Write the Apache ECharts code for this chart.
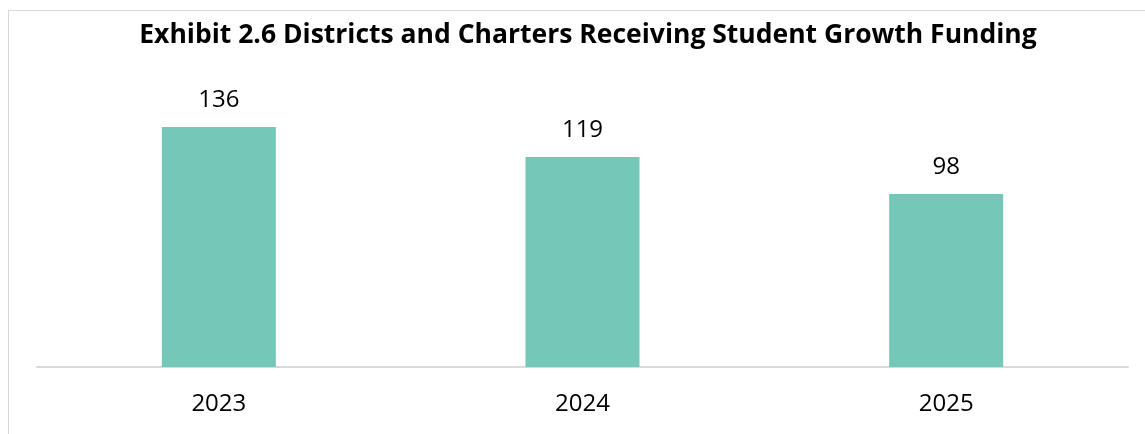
<!DOCTYPE html>
<html>
<head>
<meta charset="utf-8">
<script src="https://cdn.jsdelivr.net/npm/echarts@6/dist/echarts.min.js"></script>
<style>
    html, body { margin: 0; padding: 0; background: #fff; }
    .frame {
        position: absolute;
        left: 8px;
        top: 10px;
        width: 1160px;
        height: 440px;
        border: 1px solid #d9d9d9;
        box-sizing: border-box;
    }
    #chart { position: absolute; left: 0; top: 0; width: 1145px; height: 434px; }
</style>
</head>
<body>
<div class="frame"></div>
<div id="chart"></div>
<script>
const years = ['2023', '2024', '2025'];
const counts = [136, 119, 98];

var myChart = echarts.init(document.getElementById('chart'));
var option = {
    animation: false,
    title: {
        text: 'Exhibit 2.6 Districts and Charters Receiving Student Growth Funding',
        left: 583,
        textAlign: 'center',
        top: 17,
        textStyle: {
            fontFamily: 'Open Sans',
            fontSize: 26.5,
            fontWeight: 'bold',
            color: '#000'
        }
    },
    grid: {
        left: 37,
        right: 17,
        top: 84.6,
        bottom: 67
    },
    xAxis: {
        type: 'category',
        data: years,
        axisLine: { lineStyle: { color: '#d9d9d9', width: 2 } },
        axisTick: { show: false },
        axisLabel: {
            margin: 25,
            fontFamily: 'Open Sans',
            fontSize: 24,
            color: '#000'
        }
    },
    yAxis: {
        type: 'value',
        min: 0,
        max: 160,
        show: false,
        splitLine: { show: false }
    },
    series: [
        {
            type: 'bar',
            data: counts,
            barWidth: 114,
            itemStyle: { color: '#75c7b8' },
            label: {
                show: true,
                position: 'top',
                distance: 15,
                fontFamily: 'Open Sans',
                fontSize: 24,
                color: '#000'
            }
        }
    ]
};
option && myChart.setOption(option);
</script>
</body>
</html>
